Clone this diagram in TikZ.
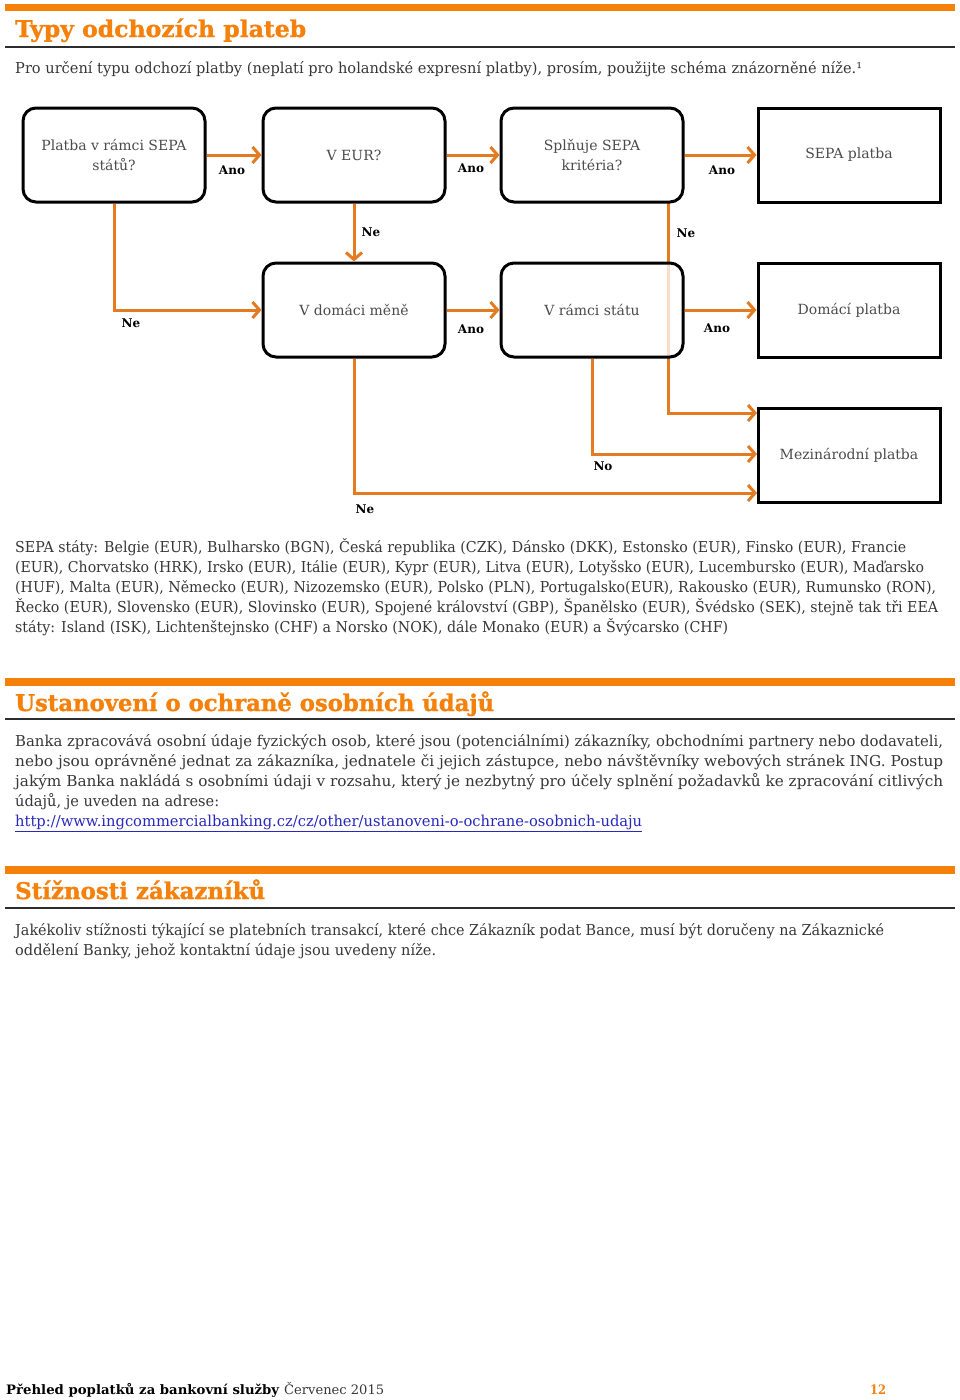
\documentclass[tikz,border=0pt]{standalone}
\usepackage{fontspec}
\setmainfont{DejaVu Serif}
\newfontfamily\headf{DejaVu Serif}[BoldFeatures={FakeBold=1.2}]
\usetikzlibrary{arrows.meta,calc}
\definecolor{ingorange}{RGB}{245,128,10}
\definecolor{connor}{RGB}{228,122,33}
\definecolor{txt}{RGB}{55,55,55}
\definecolor{boxtxt}{RGB}{75,75,75}
\definecolor{rulec}{RGB}{45,45,45}
\definecolor{linkb}{RGB}{40,40,190}
\newlength\fitlen
\newcommand\fitto[2]{\settowidth\fitlen{#2}\pgfmathsetmacro\fitf{#1/\fitlen}\scalebox{\fitf}[1]{#2}}
\tikzset{
  barstyle/.style={fill=ingorange, draw=none},
  hrule/.style={draw=rulec, line width=1.6pt},
  title/.style={anchor=base west, inner sep=0pt, font=\fontsize{23}{26}\selectfont\headf\bfseries, text=ingorange},
  body/.style={anchor=base west, inner sep=0pt, font=\fontsize{15}{20}\selectfont, text=txt},
  rbox/.style={draw=black, line width=3pt, rounded corners=13pt, minimum width=182pt, minimum height=94pt, fill=white, align=center, font=\fontsize{14}{20}\selectfont, text=boxtxt, inner sep=0pt},
  sbox/.style={draw=black, line width=3pt, minimum width=182pt, minimum height=94pt, fill=white, align=center, font=\fontsize{14}{20}\selectfont, text=boxtxt, inner sep=0pt},
  conn/.style={draw=connor, line width=3pt, -{Straight Barb[length=7pt, width=16pt]}},
  lab/.style={font=\fontsize{12}{14}\selectfont\bfseries, text=black, inner sep=0pt},
}
\begin{document}
\begin{tikzpicture}[x=1pt,y=-1pt]
\useasboundingbox[fill=white] (0,0) rectangle (960,1400);
% section 1 header
\fill[barstyle] (5,4) rectangle (955,11);
\node[title] (t1) at (15,37) {\fitto{291}{Typy odchozích plateb}};
\draw[hrule] (5,47) -- (955,47);
\node[body] (intro) at (15,73) {\fitto{847}{Pro určení typu odchozí platby (neplatí pro holandské expresní platby), prosím, použijte schéma znázorněné níže.¹}};

% connectors drawn before boxes (one passes under box 6)
\coordinate (c3) at (668,203);
\coordinate (t8a) at (757,413);
\coordinate (t8b) at (757,454);
\coordinate (t8c) at (757,493);
\draw[conn] (c3) |- (t8a);

% boxes
\node[rbox] (b1) at (114,155) {Platba v rámci SEPA\\států?};
\node[rbox] (b2) at (354,155) {V EUR?};
\node[rbox] (b3) at (592,155) {Splňuje SEPA\\kritéria?};
\node[sbox] (b4) at (849,155) {SEPA platba};
\node[rbox] (b5) at (354,310) {V domáci měně};
\node[rbox, fill opacity=0.75, text opacity=1] (b6) at (592,310) {V rámci státu};
\node[sbox] (b7) at (849,310) {Domácí platba};
\node[sbox] (b8) at (849,455) {Mezinárodní platba};

% connectors
\draw[conn] (b1.east) -- (b2.west);
\draw[conn] (b2.east) -- (b3.west);
\draw[conn] (b3.east) -- (b4.west);
\draw[conn] (b1.south) |- (b5.west);
\draw[conn] (b2.south) -- (b5.north);
\draw[conn] (b5.east) -- (b6.west);
\draw[conn] (b6.east) -- (b7.west);
\draw[conn] (b6.south) |- (t8b);
\draw[conn] (b5.south) |- (t8c);

% labels
\node[lab] (l1) at (232,170) {Ano};
\node[lab] (l2) at (471,168) {Ano};
\node[lab] (l3) at (722,170) {Ano};
\node[lab] (l4) at (371,232) {Ne};
\node[lab] (l5) at (686,233) {Ne};
\node[lab] (l6) at (131,323) {Ne};
\node[lab] (l7) at (471,329) {Ano};
\node[lab] (l8) at (717,328) {Ano};
\node[lab] (l9) at (603,466) {No};
\node[lab] (l10) at (365,509) {Ne};

% SEPA list
\node[body] (s1) at (15,552) {\fitto{891}{SEPA státy: Belgie (EUR), Bulharsko (BGN), Česká republika (CZK), Dánsko (DKK), Estonsko (EUR), Finsko (EUR), Francie}};
\node[body] (s2) at (15,572) {\fitto{909}{(EUR), Chorvatsko (HRK), Irsko (EUR), Itálie (EUR), Kypr (EUR), Litva (EUR), Lotyšsko (EUR), Lucembursko (EUR), Maďarsko}};
\node[body] (s3) at (15,592) {\fitto{921}{(HUF), Malta (EUR), Německo (EUR), Nizozemsko (EUR), Polsko (PLN), Portugalsko(EUR), Rakousko (EUR), Rumunsko (RON),}};
\node[body] (s4) at (15,612) {\fitto{923}{Řecko (EUR), Slovensko (EUR), Slovinsko (EUR), Spojené království (GBP), Španělsko (EUR), Švédsko (SEK), stejně tak tři EEA}};
\node[body] (s5) at (15,632) {\fitto{713}{státy: Island (ISK), Lichtenštejnsko (CHF) a Norsko (NOK), dále Monako (EUR) a Švýcarsko (CHF)}};

% section 2
\fill[barstyle] (5,678) rectangle (955,686);
\node[title] (t2) at (15,711) {\fitto{479}{Ustanovení o ochraně osobních údajů}};
\draw[hrule] (5,719) -- (955,719);
\node[body] (p1) at (15,746) {\fitto{928}{Banka zpracovává osobní údaje fyzických osob, které jsou (potenciálními) zákazníky, obchodními partnery nebo dodavateli,}};
\node[body] (p2) at (15,766) {\fitto{928}{nebo jsou oprávněné jednat za zákazníka, jednatele či jejich zástupce, nebo návštěvníky webových stránek ING. Postup}};
\node[body] (p3) at (15,786) {\fitto{928}{jakým Banka nakládá s osobními údaji v rozsahu, který je nezbytný pro účely splnění požadavků ke zpracování citlivých}};
\node[body] (p4) at (15,806) {\fitto{204}{údajů, je uveden na adrese:}};
\node[body, text=linkb] (p5) at (15,826) {\fitto{627}{\underline{http://www.ingcommercialbanking.cz/cz/other/ustanoveni-o-ochrane-osobnich-udaju}}};

% section 3
\fill[barstyle] (5,866) rectangle (955,874);
\node[title] (t3) at (15,899) {\fitto{250}{Stížnosti zákazníků}};
\draw[hrule] (5,908) -- (955,908);
\node[body] (q1) at (15,935) {\fitto{869}{Jakékoliv stížnosti týkající se platebních transakcí, které chce Zákazník podat Bance, musí být doručeny na Zákaznické}};
\node[body] (q2) at (15,955) {\fitto{421}{oddělení Banky, jehož kontaktní údaje jsou uvedeny níže.}};

% footer
\node[anchor=base west, inner sep=0pt, font=\fontsize{13}{15}\selectfont\bfseries, text=black] (f1) at (6,1394) {\fitto{273}{Přehled poplatků za bankovní služby}};
\node[anchor=base west, inner sep=0pt, font=\fontsize{13}{15}\selectfont, text=txt] (f2) at (284,1394) {\fitto{100}{Červenec 2015}};
\node[anchor=base west, inner sep=0pt, font=\fontsize{13}{15}\selectfont\bfseries, text=ingorange] (f3) at (870,1394) {\fitto{16}{12}};
\end{tikzpicture}
\end{document}
